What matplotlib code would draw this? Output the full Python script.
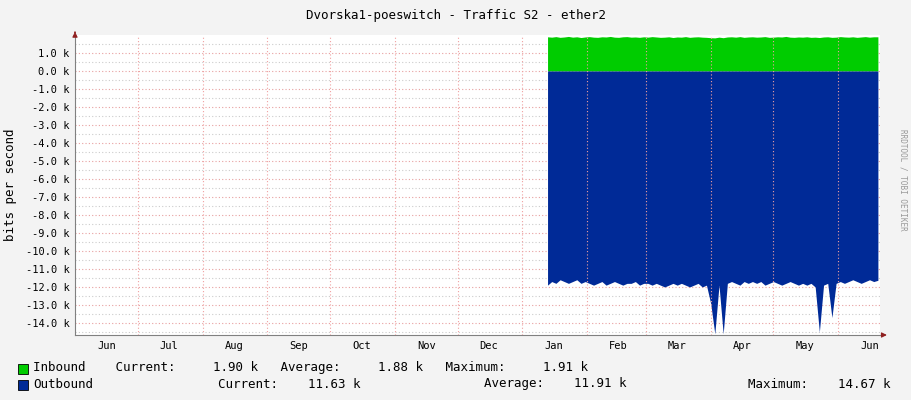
import numpy as np
import matplotlib.pyplot as plt

# day offsets from 1 June, samples every 2 days from mid-January
days = list(range(226, 386, 2))
inbound = [1.90, 1.88, 1.91, 1.87, 1.89, 1.92, 1.88, 1.90, 1.86, 1.89,
           1.91, 1.88, 1.87, 1.90, 1.89, 1.92, 1.88, 1.87, 1.90, 1.91,
           1.88, 1.89, 1.87, 1.90, 1.88, 1.91, 1.89, 1.87, 1.88, 1.90,
           1.86, 1.89, 1.88, 1.91, 1.87, 1.89, 1.90, 1.88, 1.87, 1.85,
           1.84, 1.88, 1.85, 1.89, 1.90, 1.88, 1.91, 1.87, 1.89, 1.90,
           1.88, 1.89, 1.91, 1.87, 1.88, 1.90, 1.89, 1.92, 1.88, 1.87,
           1.89, 1.88, 1.90, 1.87, 1.88, 1.86, 1.89, 1.90, 1.87, 1.88,
           1.91, 1.89, 1.88, 1.90, 1.87, 1.89, 1.91, 1.88, 1.90, 1.90]
outbound = [-11.9, -11.7, -11.8, -11.6, -11.7, -11.8, -11.7, -11.6, -11.8, -11.7,
            -11.8, -11.9, -11.8, -11.7, -11.9, -11.8, -11.7, -11.8, -11.9, -11.8,
            -11.8, -11.7, -11.9, -11.8, -11.8, -11.9, -11.8, -11.9, -12.0, -11.9,
            -11.8, -11.9, -11.8, -11.9, -12.0, -11.9, -11.8, -12.0, -11.9, -12.9,
            -14.6, -11.9, -14.6, -11.8, -11.7, -11.8, -11.9, -11.7, -11.8, -11.7,
            -11.8, -11.7, -11.9, -11.8, -11.7, -11.8, -11.9, -11.8, -11.7, -11.8,
            -11.9, -11.8, -11.9, -11.8, -12.0, -14.5, -11.9, -11.8, -13.7, -11.8,
            -11.7, -11.8, -11.7, -11.6, -11.7, -11.8, -11.7, -11.6, -11.7, -11.63]
month_starts = [0, 30, 61, 92, 122, 153, 183, 214, 245, 273, 304, 334, 365]
month_labels = ["Jun", "Jul", "Aug", "Sep", "Oct", "Nov", "Dec",
                "Jan", "Feb", "Mar", "Apr", "May", "Jun"]
yticks = np.arange(-14, 2, 1)

plt.rcParams['font.family'] = 'DejaVu Sans Mono'
plt.rcParams['font.size'] = 7.5

fig = plt.figure(figsize=(9.11, 4.0), dpi=100, facecolor='#F3F3F3')
ax = fig.add_axes([75/911, 65/400, 805/911, 300/400])
ax.set_facecolor('white')

x = np.array(days)
ax.fill_between(x, 0, inbound, color='#00CC00', lw=0, zorder=3)
ax.fill_between(x, 0, outbound, color='#002A97', lw=0, zorder=3)

ax.set_xlim(0, 385)
ax.set_ylim(-14.67, 2.0)

# grid
for y in np.arange(-14.5, 2.0, 1.0):
    ax.axhline(y, color='#CCCCCC', lw=0.8, ls=(0, (1, 2)), zorder=1)
for y in yticks:
    ax.axhline(y, color='#E8A0A0', lw=0.8, ls=(0, (1, 2)), zorder=1)
for m in month_starts[1:]:
    ax.axvline(m, color='#F0A0A0', lw=0.8, ls=(0, (1, 2)), zorder=4)

ax.set_yticks(yticks)
ax.set_yticklabels(['%.1f k' % v for v in yticks])
centers = [month_starts[i] + 15 for i in range(len(month_starts))]
ax.set_xticks(centers)
ax.set_xticklabels(month_labels)
ax.tick_params(length=0, pad=4, colors='#000000')
for s in ['top', 'right']:
    ax.spines[s].set_visible(False)
ax.spines['left'].set_color('#808080')
ax.spines['bottom'].set_color('#808080')
ax.annotate('', xy=(1.012, 0), xycoords='axes fraction', xytext=(1.0, 0),
            arrowprops=dict(arrowstyle='-|>', color='#902020', lw=0.8))
ax.annotate('', xy=(0, 1.02), xycoords='axes fraction', xytext=(0, 1.0),
            arrowprops=dict(arrowstyle='-|>', color='#902020', lw=0.8))

ax.set_ylabel('bits per second', fontsize=9, labelpad=6)
fig.text(0.5, 1 - 15/400, 'Dvorska1-poeswitch - Traffic S2 - ether2',
         ha='center', va='center', fontsize=9)
fig.text(903/911, 0.5 + 20/400, 'RRDTOOL / TOBI OETIKER', rotation=270,
         ha='center', va='center', fontsize=5.5, color='#999999')

# legend
fig.patches.append(plt.Rectangle((18/911, 1 - 374/400), 10/911, 10/400,
                                 transform=fig.transFigure, fc='#00CC00', ec='black', lw=0.6))
fig.patches.append(plt.Rectangle((18/911, 1 - 390/400), 10/911, 10/400,
                                 transform=fig.transFigure, fc='#002A97', ec='black', lw=0.6))
fig.text(33/911, 1 - 368/400, 'Inbound    Current:     1.90 k   Average:     1.88 k   Maximum:     1.91 k',
         va='center', fontsize=9)
fig.text(33/911, 1 - 384/400, 'Outbound', va='center', fontsize=9)
fig.text(218/911, 1 - 384/400, 'Current:    11.63 k', va='center', fontsize=9)
fig.text(484/911, 1 - 384/400, 'Average:    11.91 k', va='center', fontsize=9)
fig.text(748/911, 1 - 384/400, 'Maximum:    14.67 k', va='center', fontsize=9)

fig.savefig('out.png', dpi=100, facecolor=fig.get_facecolor())
